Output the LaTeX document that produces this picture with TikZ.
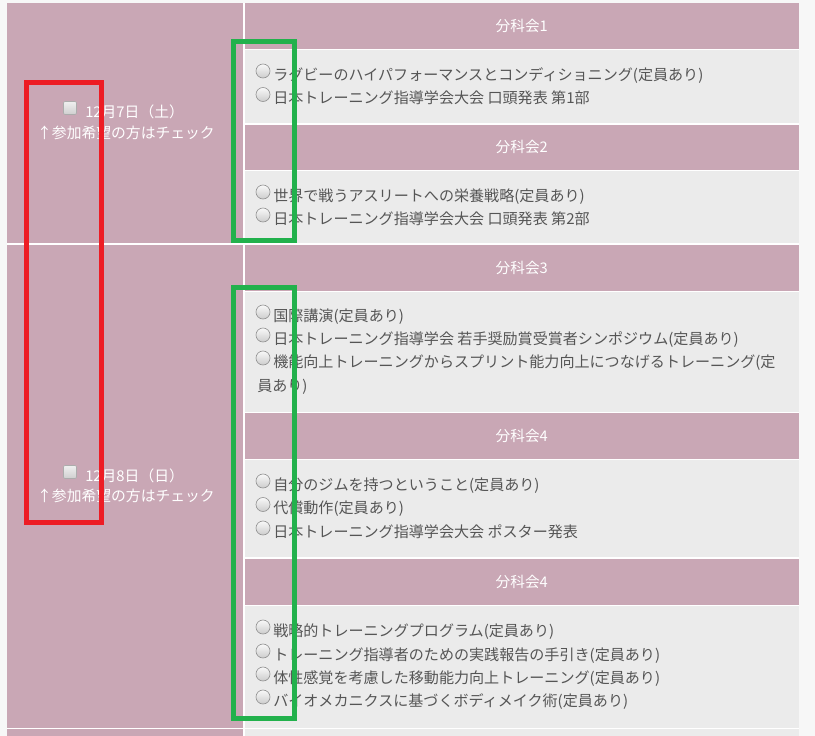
\documentclass[tikz,border=0pt]{standalone}
\usepackage{fontspec}
\setmainfont{Noto Sans CJK JP}
\definecolor{pinkcell}{HTML}{C9A7B5}
\definecolor{graycell}{HTML}{EBEBEB}
\definecolor{pagebg}{HTML}{F7F7F7}
\definecolor{itemtext}{HTML}{555555}
\definecolor{markred}{HTML}{ED1C24}
\definecolor{markgreen}{HTML}{22B14C}
\tikzset{
  header/.style={text=white, font=\fontsize{11pt}{13pt}\selectfont, inner sep=0pt, text height=0.88em, text depth=0.12em},
  entry/.style={anchor=west, text=itemtext, font=\fontsize{11.3pt}{13pt}\selectfont, inner sep=0pt, text height=0.88em, text depth=0.12em},
  daytext/.style={text=white, font=\fontsize{11.1pt}{13pt}\selectfont, inner sep=0pt, text height=0.88em, text depth=0.12em},
  radiobtn/.style={circle, draw=gray!85, line width=0.5pt, top color=gray!5, bottom color=gray!40, minimum size=10.5pt, inner sep=0pt},
  checkbtn/.style={rectangle, rounded corners=1pt, draw=gray!65, line width=0.5pt, top color=gray!12, bottom color=gray!38, minimum size=9.8pt, inner sep=0pt},
  markbox/.style={line width=3.75pt},
}
\begin{document}
\begin{tikzpicture}[x=0.75pt, y=-0.75pt]
\useasboundingbox (0,0) rectangle (815,736);
\fill[pagebg] (0,0) rectangle (815,736);
\fill[white] (7,3) rectangle (799,736);

\fill[pinkcell] (7,3) rectangle (243,243);
\fill[pinkcell] (7,244.5) rectangle (243,727.5);
\fill[pinkcell] (7,729) rectangle (243,736);

\fill[pinkcell] (244.5,3) rectangle (799,48.5);
\fill[graycell] (244.5,49.5) rectangle (799,123);
\fill[pinkcell] (244.5,124.5) rectangle (799,169.5);
\fill[graycell] (244.5,170.5) rectangle (799,243);
\fill[pinkcell] (244.5,244.5) rectangle (799,290.5);
\fill[graycell] (244.5,291.5) rectangle (799,411.5);
\fill[pinkcell] (244.5,413) rectangle (799,458.5);
\fill[graycell] (244.5,459.5) rectangle (799,557);
\fill[pinkcell] (244.5,558.5) rectangle (799,604.5);
\fill[graycell] (244.5,605.5) rectangle (799,727.5);
\fill[graycell] (244.5,729) rectangle (799,736);

\node[checkbtn] (c1) at (70,108) {};
\node[daytext, anchor=west] (d1) at (85,112.5) {12月7日（土）};
\node[daytext] (n1) at (126,133.5) {↑参加希望の方はチェック};
\node[checkbtn] (c2) at (70,472) {};
\node[daytext, anchor=west] (d2) at (85,476.5) {12月8日（日）};
\node[daytext] (n2) at (126,496.5) {↑参加希望の方はチェック};

\node[header] (h1) at (521.75,26) {分科会1};
\node[header] (h2) at (521.75,147) {分科会2};
\node[header] (h3) at (521.75,268) {分科会3};
\node[header] (h4) at (521.75,436) {分科会4};
\node[header] (h5) at (521.75,582) {分科会4};

\node[radiobtn] (r11) at (263,71) {};
\node[entry] (e11) at (273,75) {ラグビーのハイパフォーマンスとコンディショニング(定員あり)};
\node[radiobtn] (r12) at (263,94.5) {};
\node[entry] (e12) at (273,98.5) {日本トレーニング指導学会大会 口頭発表 第1部};

\node[radiobtn] (r21) at (263,192) {};
\node[entry] (e21) at (273,196) {世界で戦うアスリートへの栄養戦略(定員あり)};
\node[radiobtn] (r22) at (263,215) {};
\node[entry] (e22) at (273,219) {日本トレーニング指導学会大会 口頭発表 第2部};

\node[radiobtn] (r31) at (263,312) {};
\node[entry] (e31) at (273,316) {国際講演(定員あり)};
\node[radiobtn] (r32) at (263,335) {};
\node[entry] (e32) at (273,339) {日本トレーニング指導学会 若手奨励賞受賞者シンポジウム(定員あり)};
\node[radiobtn] (r33) at (263,358) {};
\node[entry] (e33) at (273,362) {機能向上トレーニングからスプリント能力向上につなげるトレーニング(定};
\node[entry] (e33b) at (257,386) {員あり)};

\node[radiobtn] (r41) at (263,481) {};
\node[entry] (e41) at (273,485) {自分のジムを持つということ(定員あり)};
\node[radiobtn] (r42) at (263,504.5) {};
\node[entry] (e42) at (273,508.5) {代償動作(定員あり)};
\node[radiobtn] (r43) at (263,528) {};
\node[entry] (e43) at (273,532) {日本トレーニング指導学会大会 ポスター発表};

\node[radiobtn] (r51) at (263,627) {};
\node[entry] (e51) at (273,631) {戦略的トレーニングプログラム(定員あり)};
\node[radiobtn] (r52) at (263,651) {};
\node[entry] (e52) at (273,655) {トレーニング指導者のための実践報告の手引き(定員あり)};
\node[radiobtn] (r53) at (263,674) {};
\node[entry] (e53) at (273,678) {体性感覚を考慮した移動能力向上トレーニング(定員あり)};
\node[radiobtn] (r54) at (263,697) {};
\node[entry] (e54) at (273,701) {バイオメカニクスに基づくボディメイク術(定員あり)};

% marks
\draw[markbox, markred] (26.5,82.5) rectangle (101.5,522.5);
\draw[markbox, markgreen] (233.5,41.5) rectangle (294.5,240);
\draw[markbox, markgreen] (233.5,287.5) rectangle (294.5,718.5);
\end{tikzpicture}
\end{document}
